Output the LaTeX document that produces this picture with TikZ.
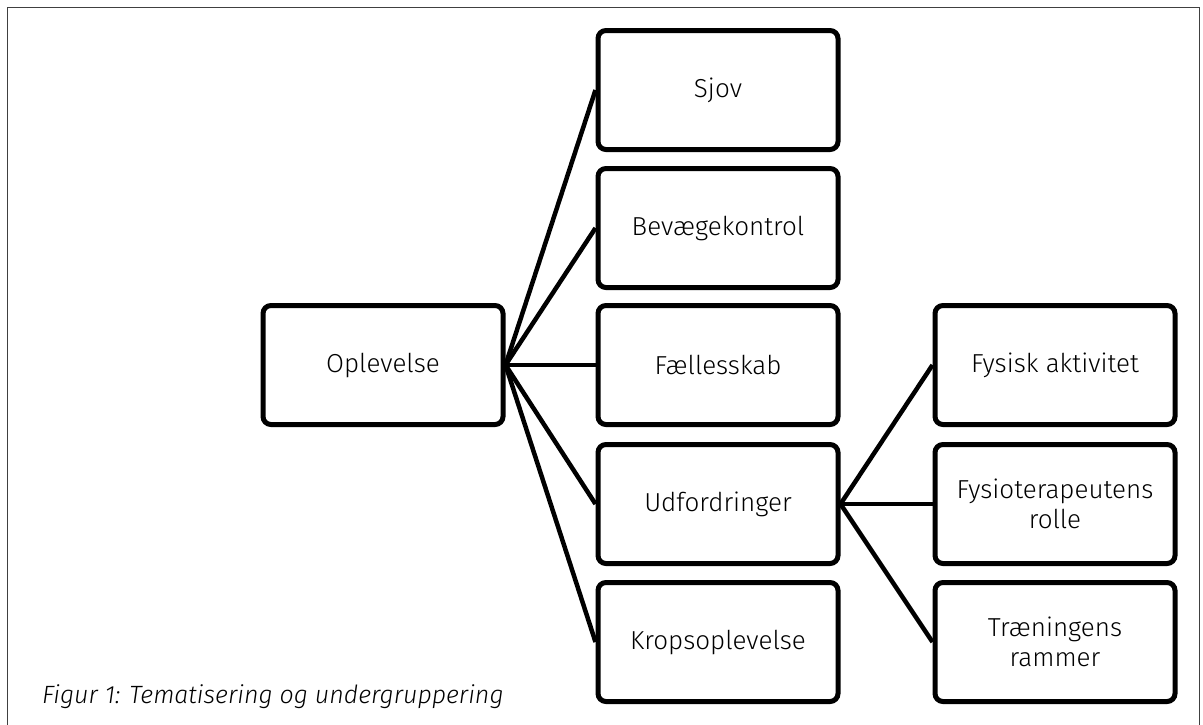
\documentclass[tikz,border=0pt]{standalone}
\usepackage{fontspec}
\IfFontExistsTF{Fira Sans Light}
  {\setmainfont{Fira Sans Light}[ItalicFont={Fira Sans Light Italic}]}
  {\setmainfont{Fira Sans}}
\usetikzlibrary{positioning}
\tikzset{
  theme/.style={draw,line width=5pt,rounded corners=8pt,minimum width=240pt,minimum height=119pt,inner sep=2pt,align=center,font=\fontsize{26}{30}\selectfont},
  link/.style={line width=4.5pt},
  frame/.style={draw,black!75,line width=1pt},
  caption/.style={anchor=base west,inner sep=0pt,font=\fontsize{25}{30}\selectfont\itshape},
}

\begin{document}
\begin{tikzpicture}[x=1pt,y=-1pt]

  \useasboundingbox (0,0) rectangle (1203,724);
  \draw[frame] (7,740) -- (7,7) -- (1199,7) -- (1199,740);

  % ROOT
  \node[theme] (oplev)  at (383, 365)  {Oplevelse};

  % COLUMN 2: themes
  \node[theme] (sjov)   at (718, 90)   {Sjov};
  \node[theme] (bevaeg) at (718, 228)  {Bevægekontrol};
  \node[theme] (faell)  at (718, 365)  {Fællesskab};
  \node[theme] (udf)    at (718, 504)  {Udfordringer};
  \node[theme] (krop)   at (718, 642)  {Kropsoplevelse};
  \draw[link] (oplev.east) -- (sjov.west);
  \draw[link] (oplev.east) -- (bevaeg.west);
  \draw[link] (oplev.east) -- (faell.west);
  \draw[link] (oplev.east) -- (udf.west);
  \draw[link] (oplev.east) -- (krop.west);

  % COLUMN 3: subgroups of Udfordringer
  \node[theme] (fysisk) at (1055, 365) {Fysisk aktivitet};
  \node[theme] (fysio)  at (1055, 504) {Fysioterapeutens\\rolle};
  \node[theme] (traen)  at (1055, 642) {Træningens\\rammer};
  \draw[link] (udf.east) -- (fysisk.west);
  \draw[link] (udf.east) -- (fysio.west);
  \draw[link] (udf.east) -- (traen.west);

  % caption
  \node[caption] (cap) at (42, 703) {Figur 1: Tematisering og undergruppering};

\end{tikzpicture}
\end{document}
